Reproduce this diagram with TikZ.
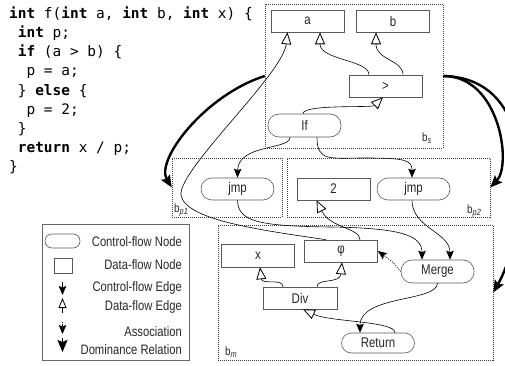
\documentclass[tikz,border=0pt]{standalone}
\usepackage{fontspec}
\setmainfont{Liberation Sans}[FakeStretch=0.82]
\setmonofont{DejaVu Sans Mono}
\usetikzlibrary{arrows.meta}
\newcommand\blocksub[1]{\raisebox{-2pt}{\fontsize{9}{9}\selectfont\itshape #1}}
\tikzset{
  codeline/.style={anchor=base west, inner sep=0pt, font=\ttfamily\fontsize{14.45}{17}\selectfont},
  dfnode/.style={draw=black!65, fill=white, line width=0.6pt, minimum width=73pt, minimum height=22pt, inner sep=0pt, font=\fontsize{14}{16}\selectfont, text=black!85},
  cfnode/.style={dfnode, rounded corners=11pt},
  blockbox/.style={draw=black!75, dash pattern=on 1pt off 1pt, line width=0.5pt, inner sep=0pt},
  blocklbl/.style={anchor=base west, inner sep=0pt, font=\fontsize{12}{12}\selectfont, text=black!85},
  legtext/.style={anchor=east, inner sep=0pt, font=\fontsize{13.7}{15}\selectfont, text=black!85},
  dfe/.style={draw, line width=0.6pt, -{Triangle[open,length=12pt,width=10pt,line width=0.8pt]}},
  cfe/.style={draw, line width=0.6pt, -{Stealth[length=9pt,width=7.5pt,inset=1.5pt]}},
  asc/.style={cfe, dash pattern=on 1.2pt off 1.2pt},
  dom/.style={draw, line width=2.4pt, -{Stealth[length=12pt,width=10pt,inset=2pt]}},
}
\begin{document}
\begin{tikzpicture}[x=1pt,y=-1pt]
\useasboundingbox (0,0) rectangle (505,366);

% code
\node[codeline] (c1) at (9,18.3) {\textbf{int} f(\textbf{int} a, \textbf{int} b, \textbf{int} x) \{};
\node[codeline] (c2) at (17.7,37.5) {\textbf{int} p;};
\node[codeline] (c3) at (17.7,56.7) {\textbf{if} (a > b) \{};
\node[codeline] (c4) at (26.4,75.9) {p = a;};
\node[codeline] (c5) at (17.7,95.1) {\} \textbf{else} \{};
\node[codeline] (c6) at (26.4,114.3) {p = 2;};
\node[codeline] (c7) at (17.7,133.5) {\}};
\node[codeline] (c8) at (17.7,152.7) {\textbf{return} x / p;};
\node[codeline] (c9) at (9,171.9) {\}};

% blocks
\node[blockbox, minimum width=178pt, minimum height=144pt] (bs) at (354,76) {};
\node[blockbox, minimum width=110pt, minimum height=59pt] (bp1) at (227,187.5) {};
\node[blockbox, minimum width=203pt, minimum height=59pt] (bp2) at (388.5,187.5) {};
\node[blockbox, minimum width=275pt, minimum height=135pt] (bm) at (355.5,292.5) {};
\node[blocklbl] (lbs) at (422,142) {b\blocksub{s}};
\node[blocklbl] (lbp1) at (174,212) {b\blocksub{p1}};
\node[blocklbl] (lbp2) at (467,213) {b\blocksub{p2}};
\node[blocklbl] (lbm) at (225,355) {b\blocksub{m}};

% nodes
\node[dfnode] (a) at (307.5,21) {a};
\node[dfnode] (b) at (393,21) {b};
\node[dfnode] (gt) at (385.5,86) {>};
\node[cfnode, minimum height=23pt] (If) at (304.5,125.5) {If};
\node[cfnode] (jmp1) at (237.5,189) {jmp};
\node[dfnode] (two) at (333.5,189) {2};
\node[cfnode] (jmp2) at (413.5,189) {jmp};
\node[dfnode, minimum height=23pt] (x) at (258,255.5) {x};
\node[dfnode] (phi) at (341,251) {φ};
\node[cfnode, minimum height=23pt] (merge) at (437.5,271.5) {Merge};
\node[dfnode, minimum width=74pt] (div) at (300,298) {Div};
\node[cfnode, minimum height=20pt, rounded corners=10pt] (ret) at (378,343) {Return};

% data-flow edges
\draw[dfe] ([xshift=-16.5pt]gt.north) .. controls (369,60) and (320,60) .. ([xshift=12.5pt]a.south);
\draw[dfe] ([xshift=17.5pt]gt.north) .. controls (403,60) and (376,60) .. ([xshift=-17pt]b.south);
\draw[dfe] ([xshift=-1.5pt]If.north) .. controls (303,104) and (372,108) .. ([xshift=-2.5pt]gt.south);
\draw[dfe] ([xshift=-17pt]div.north) .. controls (283,278) and (262,285) .. ([xshift=2pt]x.south);
\draw[dfe] ([xshift=17pt]div.north) .. controls (317,278) and (340,284) .. ([xshift=1pt]phi.south);
\draw[dfe] ([xshift=17pt]ret.north) .. controls (395,321) and (330,322) .. ([xshift=3pt]div.south);
\draw[dfe] ([xshift=19pt]phi.north) .. controls (360,228) and (330,228) .. ([xshift=-17pt]two.south);
\draw[dfe] ([xshift=-15pt]phi.north) .. controls (260,230) and (185,220) .. (181,195) .. controls (178,170) and (283,74) .. ([xshift=-20pt]a.south);

% control-flow edges
\draw[cfe] ([xshift=-14.5pt]If.south) .. controls (290,150) and (238,144) .. (jmp1.north);
\draw[cfe] ([xshift=12.5pt]If.south) .. controls (317,162) and (330,158) .. (365,158) .. controls (405,158) and (412,160) .. ([xshift=-1.5pt]jmp2.north);
\draw[cfe] (jmp1.south) .. controls (238,222) and (260,226) .. (330,227) .. controls (400,228) and (422,235) .. ([xshift=-15.5pt]merge.north);
\draw[cfe] ([xshift=-1.5pt]jmp2.south) .. controls (412,228) and (450,232) .. ([xshift=12.5pt]merge.north);
\draw[cfe] (merge.south) .. controls (437,302) and (360,295) .. ([xshift=-18pt]ret.north);
\draw[asc] (merge.west) .. controls (393,262) .. (phi.east);

% dominance
\draw[dom] (bs.west) .. controls (205,95) and (155,160) .. (bp1.west);
\draw[dom] (bs.east) .. controls (500,76) and (512,165) .. (bp2.east);
\draw[dom] (bs.east) .. controls (548,78) and (526,235) .. (bm.east);

% legend
\node[draw=black!60, line width=0.6pt, minimum width=147pt, minimum height=136pt, inner sep=0pt] (legend) at (115.5,292) {};
\node[cfnode, minimum width=35pt, minimum height=14pt, rounded corners=7pt] (lcf) at (62.5,241) {};
\node[dfnode, minimum width=18pt, minimum height=15pt] (ldf) at (63,265.5) {};
\coordinate (l1a) at (62.5,282); \coordinate (l1b) at (62.5,295);
\coordinate (l2a) at (62.5,313); \coordinate (l2b) at (62.5,298);
\coordinate (l3a) at (62.5,322); \coordinate (l3b) at (62.5,334);
\coordinate (l4a) at (62.5,338); \coordinate (l4b) at (62.5,352);
\draw[cfe] (l1a) -- (l1b);
\draw[dfe, -{Triangle[open,length=10pt,width=8pt,line width=0.8pt]}] (l2a) -- (l2b);
\draw[asc] (l3a) -- (l3b);
\draw[dom, line width=1.8pt] (l4a) -- (l4b);
\node[legtext] (t1) at (182,242) {Control-flow Node};
\node[legtext] (t2) at (182,265) {Data-flow Node};
\node[legtext] (t3) at (182,288) {Control-flow Edge};
\node[legtext] (t4) at (182,307) {Data-flow Edge};
\node[legtext] (t5) at (182,332) {Association};
\node[legtext] (t6) at (182,350) {Dominance Relation};
\end{tikzpicture}
\end{document}
